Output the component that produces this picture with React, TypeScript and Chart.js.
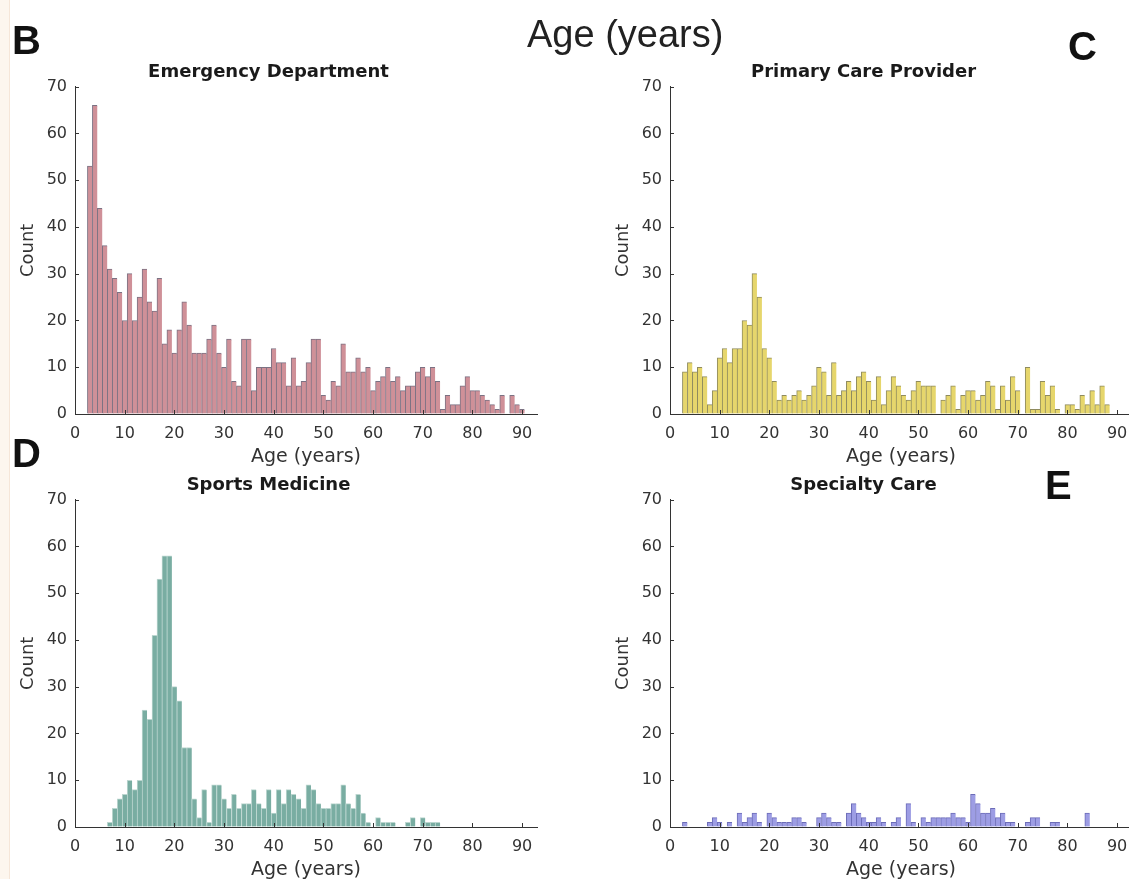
import React, { useEffect, useRef } from "react";
import { Chart, registerables } from "chart.js";

Chart.register(...registerables);

// Age bins (years), one bar per year
const AGES = [
  3, 4, 5, 6, 7, 8, 9, 10, 11, 12, 13, 14, 15, 16, 17, 18, 19, 20, 21, 22,
  23, 24, 25, 26, 27, 28, 29, 30, 31, 32, 33, 34, 35, 36, 37, 38, 39, 40, 41, 42,
  43, 44, 45, 46, 47, 48, 49, 50, 51, 52, 53, 54, 55, 56, 57, 58, 59, 60, 61, 62,
  63, 64, 65, 66, 67, 68, 69, 70, 71, 72, 73, 74, 75, 76, 77, 78, 79, 80, 81, 82,
  83, 84, 85, 86, 87, 88, 89, 90,
];

const EMERGENCY = [
  53, 66, 44, 36, 31, 29, 26, 20, 30, 20, 25, 31, 24, 22, 29, 15, 18, 13, 18, 24,
  19, 13, 13, 13, 16, 19, 13, 10, 16, 7, 6, 16, 16, 5, 10, 10, 10, 14, 11, 11,
  6, 12, 6, 7, 11, 16, 16, 4, 3, 7, 6, 15, 9, 9, 12, 9, 10, 5, 7, 8,
  10, 7, 8, 5, 6, 6, 9, 10, 8, 10, 7, 1, 4, 2, 2, 6, 8, 5, 5, 4,
  3, 2, 1, 4, 0, 4, 2, 1,
];

const PRIMARY = [
  9, 11, 9, 10, 8, 2, 5, 12, 14, 11, 14, 14, 20, 19, 30, 25, 14, 12, 7, 3,
  4, 3, 4, 5, 3, 4, 6, 10, 9, 4, 11, 4, 5, 7, 5, 8, 9, 7, 3, 8,
  2, 5, 8, 6, 4, 3, 5, 7, 6, 6, 6, 0, 3, 4, 6, 1, 4, 5, 5, 3,
  4, 7, 6, 1, 6, 3, 8, 5, 0, 10, 1, 1, 7, 4, 6, 1, 0, 2, 2, 1,
  4, 2, 5, 2, 6, 2, 0, 0,
];

const SPORTS = [
  0, 0, 0, 0, 1, 4, 6, 7, 10, 8, 10, 25, 23, 41, 53, 58, 58, 30, 27, 17,
  17, 6, 2, 8, 1, 9, 9, 6, 4, 7, 4, 5, 5, 8, 5, 4, 8, 3, 8, 5,
  8, 7, 6, 4, 9, 8, 5, 4, 4, 5, 5, 9, 5, 4, 7, 3, 1, 0, 2, 1,
  1, 1, 0, 0, 1, 2, 0, 2, 1, 1, 1, 0, 0, 0, 0, 0, 0, 0, 0, 0,
  0, 0, 0, 0, 0, 0, 0, 0,
];

const SPECIALTY = [
  1, 0, 0, 0, 0, 1, 2, 1, 0, 1, 0, 3, 1, 2, 3, 1, 0, 3, 2, 1,
  1, 1, 2, 2, 1, 0, 0, 2, 3, 2, 1, 1, 0, 3, 5, 3, 2, 1, 1, 2,
  1, 0, 1, 2, 0, 5, 1, 0, 2, 1, 2, 2, 2, 2, 3, 2, 2, 1, 7, 5,
  3, 3, 4, 2, 3, 1, 1, 0, 0, 1, 2, 2, 0, 0, 1, 1, 0, 0, 0, 0,
  0, 3, 0, 0, 0, 0, 0, 0,
];

const X_MAX = 93;
const Y_MAX = 70;
const TICK_STEP = 10;

const TEXT_FONT = "'DejaVu Sans', sans-serif";
const AXIS_COLOR = "#333";

// MATLAB-style tick marks pointing into the plot area
const inwardTicks = {
  id: "inwardTicks",
  afterDatasetsDraw(chart: any) {
    const { ctx, chartArea, scales } = chart;
    const len = 4;
    ctx.save();
    ctx.strokeStyle = AXIS_COLOR;
    ctx.lineWidth = 1;
    ctx.beginPath();
    scales.y.ticks.forEach((t: any) => {
      const y = Math.round(scales.y.getPixelForValue(t.value)) + 0.5;
      ctx.moveTo(chartArea.left, y);
      ctx.lineTo(chartArea.left + len, y);
    });
    scales.x.ticks.forEach((t: any) => {
      const x = Math.round(scales.x.getPixelForValue(t.value)) + 0.5;
      ctx.moveTo(x, chartArea.bottom);
      ctx.lineTo(x, chartArea.bottom - len);
    });
    ctx.stroke();
    ctx.restore();
  },
};

type PanelProps = {
  title: string;
  values: number[];
  fill: string;
  edge: string;
  left: number;
  top: number;
};

const CANVAS_W = 560;
const CANVAS_H = 430;

function HistPanel({ title, values, fill, edge, left, top }: PanelProps) {
  const ref = useRef<HTMLCanvasElement | null>(null);

  useEffect(() => {
    if (!ref.current) return;
    const chart = new Chart(ref.current, {
      type: "bar",
      data: {
        datasets: [
          {
            data: AGES.map((a, i) => ({ x: a, y: values[i] })),
            backgroundColor: fill,
            borderColor: edge,
            borderWidth: { left: 1, top: 1, right: 0, bottom: 0 },
            barPercentage: 1,
            categoryPercentage: 1,
          },
        ],
      },
      options: {
        animation: false,
        responsive: false,
        devicePixelRatio: 1,
        layout: { padding: { left: 0, right: 23, top: 0, bottom: 0 } },
        plugins: {
          legend: { display: false },
          tooltip: { enabled: false },
          title: {
            display: true,
            text: title,
            color: "#1a1a1a",
            font: { family: TEXT_FONT, size: 18, weight: "bold" },
            padding: { top: 12, bottom: 3 },
          },
        },
        scales: {
          x: {
            type: "linear",
            min: 0,
            max: X_MAX,
            offset: false,
            grid: { display: true, drawOnChartArea: false, drawTicks: false, color: "rgba(0,0,0,0)" },
            border: { display: true, color: AXIS_COLOR, width: 1 },
            ticks: {
              stepSize: TICK_STEP,
              includeBounds: false,
              autoSkip: false,
              maxRotation: 0,
              padding: 10,
              color: AXIS_COLOR,
              font: { family: TEXT_FONT, size: 16 },
            },
            title: {
              display: true,
              text: "Age (years)",
              color: AXIS_COLOR,
              font: { family: TEXT_FONT, size: 19 },
              padding: { top: 0, bottom: 12 },
            },
            afterFit: (s: any) => {
              s.height = 66;
            },
          },
          y: {
            min: 0,
            max: Y_MAX,
            grid: { display: true, drawOnChartArea: false, drawTicks: false, color: "rgba(0,0,0,0)" },
            border: { display: true, color: AXIS_COLOR, width: 1 },
            ticks: {
              stepSize: TICK_STEP,
              padding: 8,
              color: AXIS_COLOR,
              font: { family: TEXT_FONT, size: 16 },
            },
            title: {
              display: true,
              text: "Count",
              color: AXIS_COLOR,
              font: { family: TEXT_FONT, size: 18 },
              padding: { top: 18, bottom: 0 },
            },
            afterFit: (s: any) => {
              s.width = 75;
            },
          },
        },
      },
      plugins: [inwardTicks],
    } as any);
    return () => chart.destroy();
  }, [title, values, fill, edge]);

  return (
    <canvas
      ref={ref}
      width={CANVAS_W}
      height={CANVAS_H}
      style={{ position: "absolute", left, top, width: CANVAS_W, height: CANVAS_H }}
    />
  );
}

const letterStyle = (left: number, top: number): React.CSSProperties => ({
  position: "absolute",
  left,
  top,
  fontFamily: "'Liberation Sans', Arial, sans-serif",
  fontWeight: "bold",
  fontSize: 40,
  lineHeight: 1,
  color: "#111",
});

export default function App() {
  return (
    <div
      style={{
        position: "fixed",
        left: 0,
        top: 0,
        width: 1129,
        height: 879,
        background: "#ffffff",
        overflow: "hidden",
      }}
    >
      <div style={{ position: "absolute", left: 0, top: 0, width: 9, height: 879, background: "#fdf6ee", borderRight: "1px solid #f6e6d8" }} />
      <HistPanel title="Emergency Department" values={EMERGENCY} fill="#cf9098" edge="#7c7283" left={0} top={50} />
      <HistPanel title="Primary Care Provider" values={PRIMARY} fill="#e6d66c" edge="#8f8b5e" left={595} top={50} />
      <HistPanel title="Sports Medicine" values={SPORTS} fill="#79ada2" edge="#bcd6d0" left={0} top={463} />
      <HistPanel title="Specialty Care" values={SPECIALTY} fill="#9d9de4" edge="#6c6cb8" left={595} top={463} />
      <div
        style={{
          position: "absolute",
          left: 527,
          top: 15,
          fontFamily: "'Liberation Sans', Arial, sans-serif",
          fontSize: 38,
          lineHeight: 1,
          color: "#222",
          whiteSpace: "nowrap",
        }}
      >
        Age (years)
      </div>
      <div style={letterStyle(12, 20)}>B</div>
      <div style={letterStyle(1068, 26)}>C</div>
      <div style={letterStyle(12, 433)}>D</div>
      <div style={letterStyle(1045, 465)}>E</div>
    </div>
  );
}
